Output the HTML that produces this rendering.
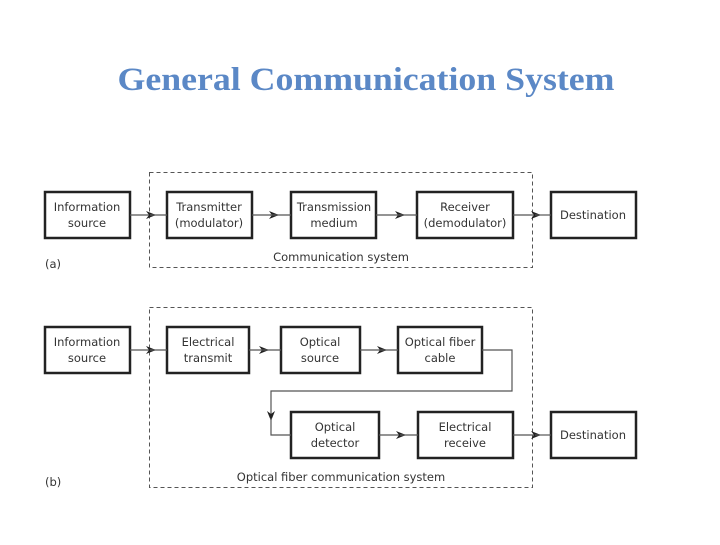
<!DOCTYPE html>
<html><head><style>
body{margin:0;background:#fff;}
svg text{font-family:"DejaVu Sans","Liberation Sans",sans-serif;font-size:11.5px;fill:#333;}
</style></head><body>
<svg width="720" height="540" xmlns="http://www.w3.org/2000/svg">
<defs><marker id="a" markerWidth="10" markerHeight="8" refX="9" refY="4" orient="auto" markerUnits="userSpaceOnUse"><path d="M0,0 L10,4 L0,8 L3,4z" fill="#222"/></marker></defs>
<text x="366" y="90" text-anchor="middle" textLength="497" lengthAdjust="spacingAndGlyphs" style="font-family:'Liberation Serif',serif;font-size:33px;font-weight:bold;fill:#5b88c6">General Communication System</text>
<g fill="none" stroke="#555" stroke-width="1" stroke-dasharray="4,3">
<rect x="149.5" y="172.5" width="383" height="95"/>
<rect x="149.5" y="307.5" width="383" height="180"/>
</g>
<g fill="none" stroke="#222" stroke-width="2.5">
<rect x="45" y="192" width="85" height="46"/>
<rect x="167" y="192" width="85" height="46"/>
<rect x="291" y="192" width="85" height="46"/>
<rect x="417" y="192" width="96" height="46"/>
<rect x="551" y="192" width="85" height="46"/>
<rect x="45" y="327" width="85" height="46"/>
<rect x="167" y="327" width="82" height="46"/>
<rect x="281" y="327" width="79" height="46"/>
<rect x="398" y="327" width="84" height="46"/>
<rect x="291" y="412" width="88" height="46"/>
<rect x="418" y="412" width="95" height="46"/>
<rect x="551" y="412" width="85" height="46"/>
</g>
<g fill="none" stroke="#555" stroke-width="1.2">
<path d="M130 215 H155" marker-end="url(#a)"/><line x1="150" y1="215" x2="167" y2="215"/>
<path d="M252 215 H278" marker-end="url(#a)"/><line x1="270" y1="215" x2="291" y2="215"/>
<path d="M376 215 H404" marker-end="url(#a)"/><line x1="398" y1="215" x2="417" y2="215"/>
<path d="M513 215 H540" marker-end="url(#a)"/><line x1="535" y1="215" x2="551" y2="215"/>
<path d="M130 350 H155" marker-end="url(#a)"/><line x1="150" y1="350" x2="167" y2="350"/>
<path d="M249 350 H268" marker-end="url(#a)"/><line x1="262" y1="350" x2="281" y2="350"/>
<path d="M360 350 H386" marker-end="url(#a)"/><line x1="380" y1="350" x2="398" y2="350"/>
<path d="M482 350 H512 V391 H271 V420" marker-end="url(#a)"/><path d="M271 418 V435 H291"/>
<path d="M379 435 H405" marker-end="url(#a)"/><line x1="400" y1="435" x2="418" y2="435"/>
<path d="M513 435 H540" marker-end="url(#a)"/><line x1="535" y1="435" x2="551" y2="435"/>
</g>
<g text-anchor="middle">
<text x="87" y="211">Information</text><text x="87" y="227">source</text>
<text x="209" y="211">Transmitter</text><text x="209" y="227">(modulator)</text>
<text x="334" y="211">Transmission</text><text x="334" y="227">medium</text>
<text x="465" y="211">Receiver</text><text x="465" y="227">(demodulator)</text>
<text x="593" y="219">Destination</text>
<text x="341" y="261">Communication system</text>
<text x="87" y="346">Information</text><text x="87" y="362">source</text>
<text x="208" y="346">Electrical</text><text x="208" y="362">transmit</text>
<text x="320" y="346">Optical</text><text x="320" y="362">source</text>
<text x="440" y="346">Optical fiber</text><text x="440" y="362">cable</text>
<text x="335" y="431">Optical</text><text x="335" y="447">detector</text>
<text x="465" y="431">Electrical</text><text x="465" y="447">receive</text>
<text x="593" y="439">Destination</text>
<text x="341" y="481">Optical fiber communication system</text>
</g>
<text x="45" y="268">(a)</text>
<text x="45" y="486">(b)</text>
</svg>
</body></html>
